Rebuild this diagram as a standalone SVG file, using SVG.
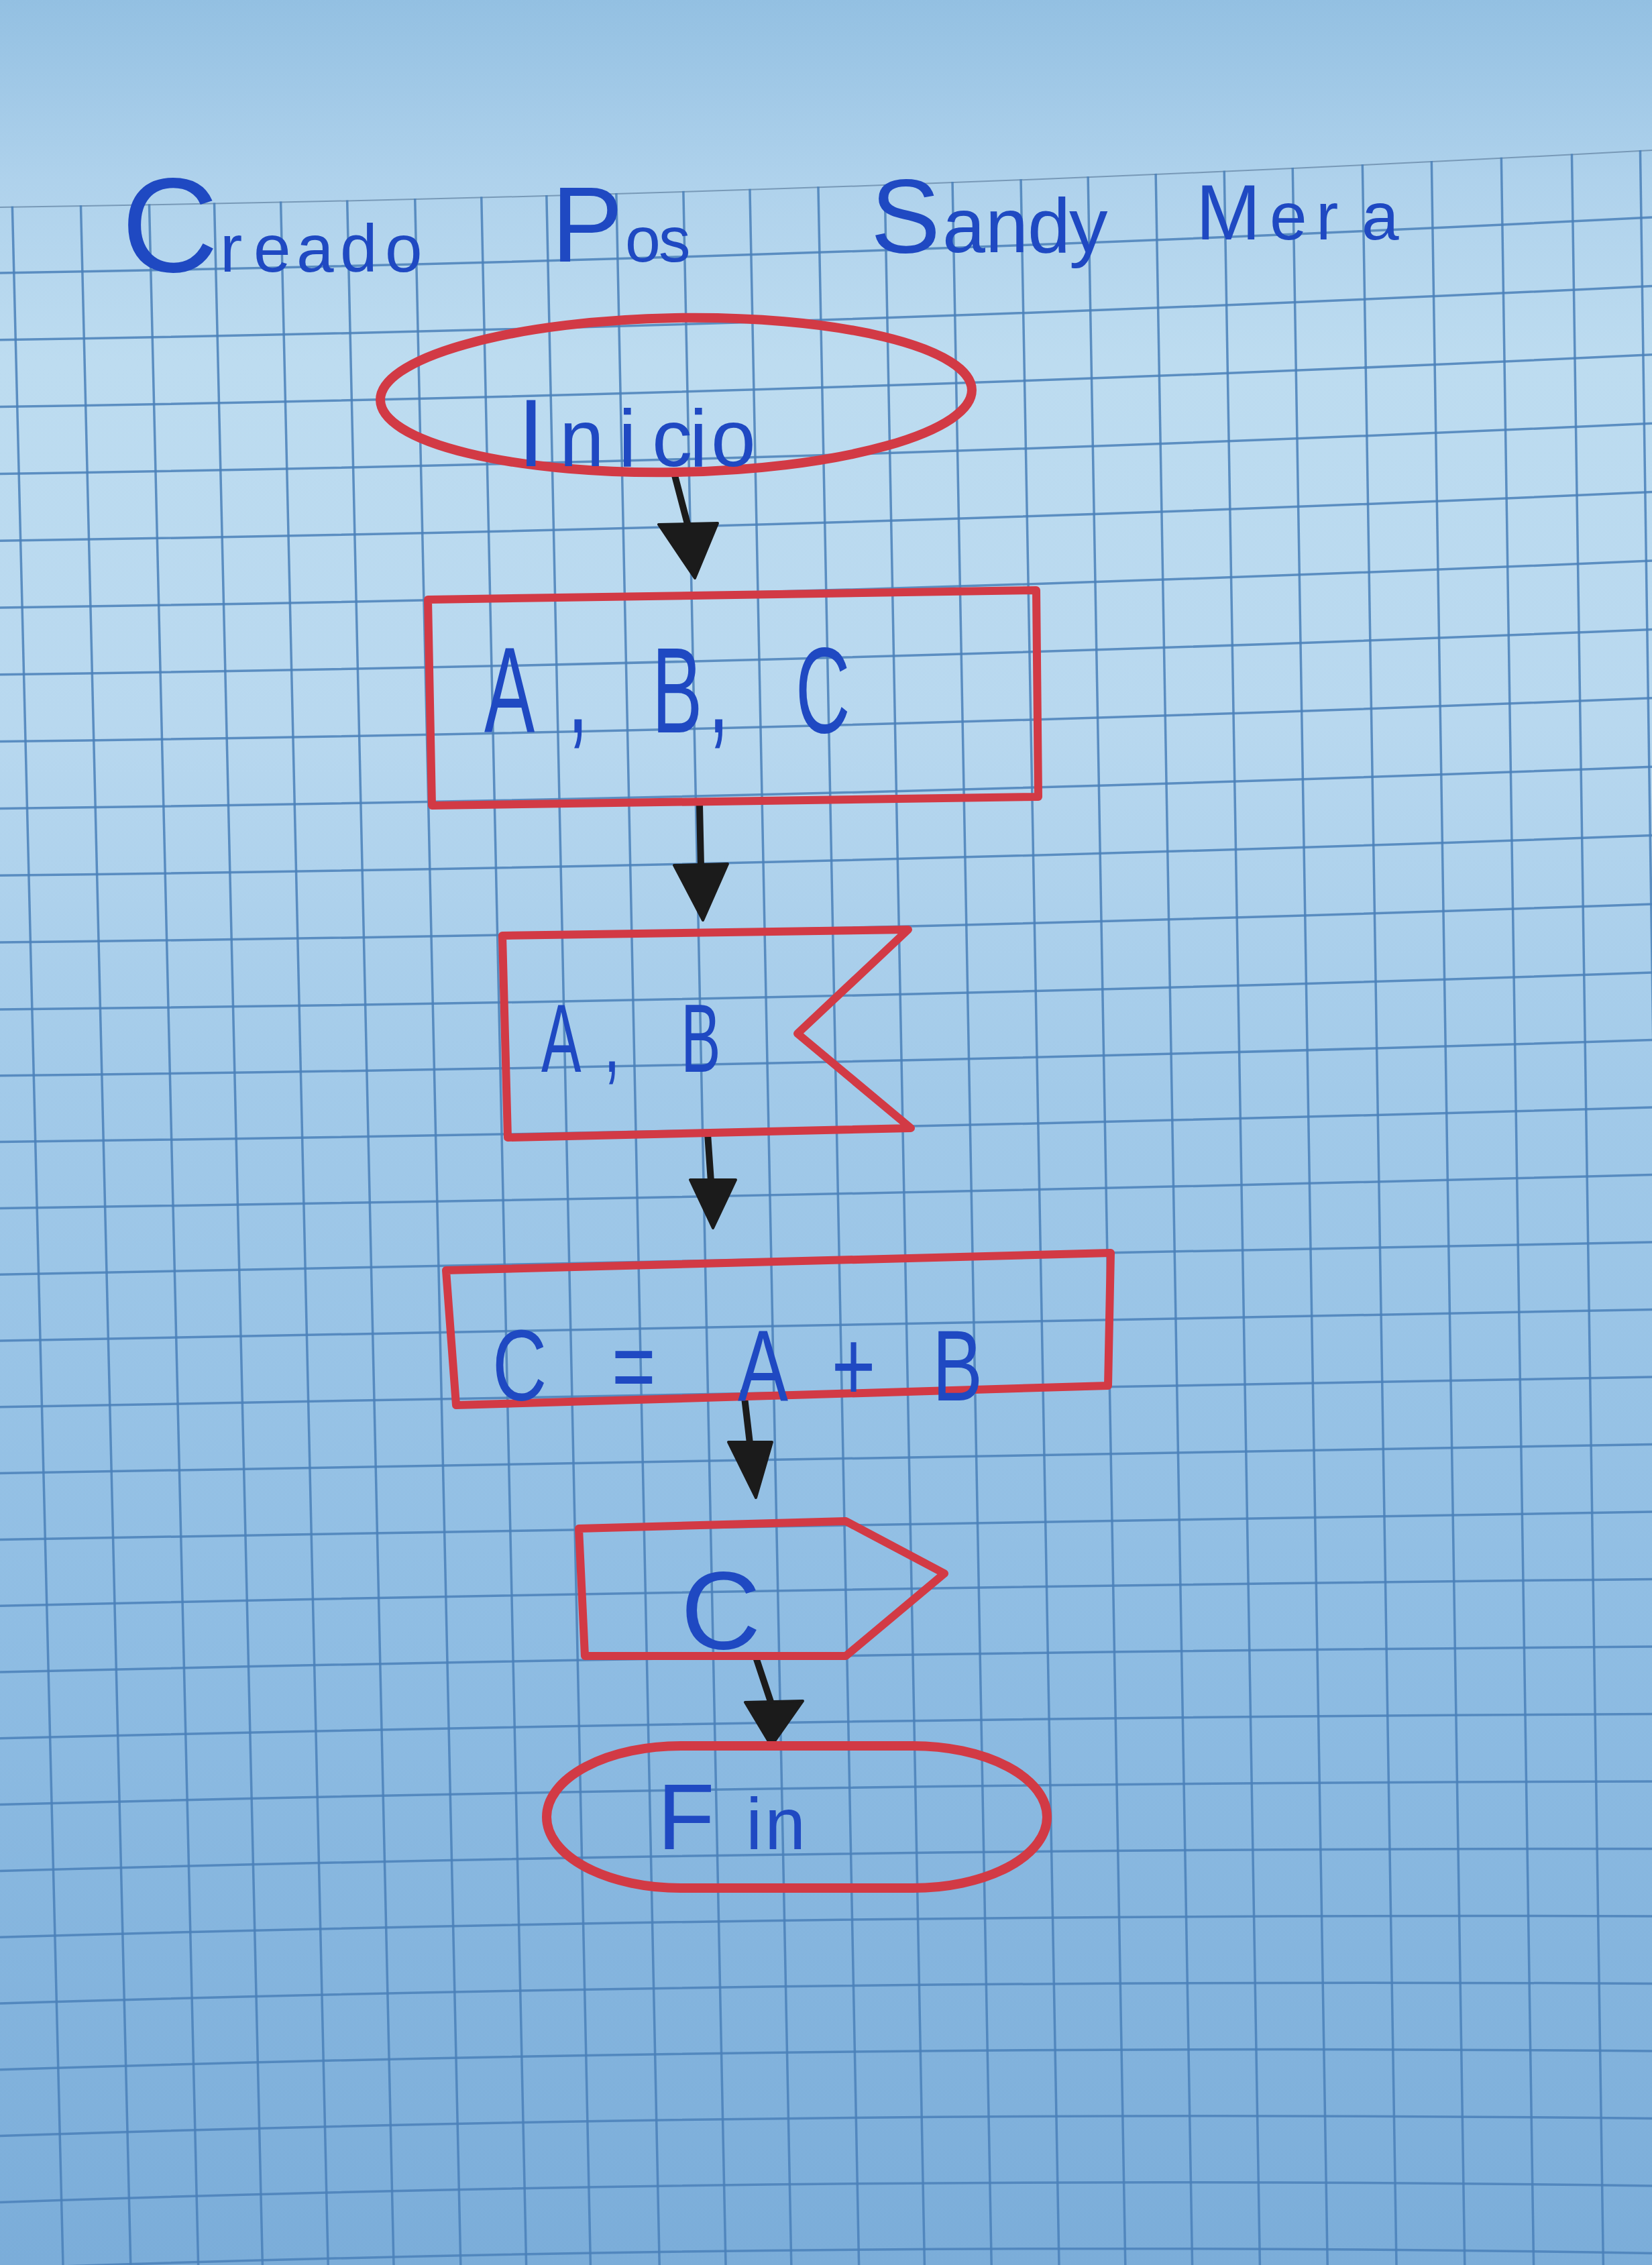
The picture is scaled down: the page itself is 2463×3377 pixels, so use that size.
<svg xmlns="http://www.w3.org/2000/svg" width="2463" height="3377" viewBox="0 0 2463 3377">
<defs>
<linearGradient id="bg" x1="0" y1="0" x2="0" y2="1">
<stop offset="0" stop-color="#93c0e2"/>
<stop offset="0.08" stop-color="#afd2ec"/>
<stop offset="0.16" stop-color="#bddcf0"/>
<stop offset="0.32" stop-color="#b8d8ef"/>
<stop offset="0.48" stop-color="#a2cae9"/>
<stop offset="0.72" stop-color="#8fbde3"/>
<stop offset="1" stop-color="#7badd9"/>
</linearGradient>
<clipPath id="paper"><path d="M0 308 Q1231 290.5 2463 223 L2463 3377 L0 3377 Z"/></clipPath>
<style>
.grid line,.grid path{stroke:#4a80b8;stroke-width:3.5;fill:none;opacity:0.85}
.shape{fill:none;stroke:#d23a45;stroke-width:12;stroke-linejoin:round}
.term{stroke-width:14}
.ink{fill:#1f49c2;font-family:"Liberation Sans",Arial,sans-serif}
.conn line{stroke:#1b1b1b;stroke-width:10;stroke-linecap:round}
.conn path{fill:#1b1b1b;stroke:#1b1b1b;stroke-width:4;stroke-linejoin:round}
</style>
</defs>
<rect x="0" y="0" width="2463" height="3377" fill="url(#bg)"/>
<g class="grid" clip-path="url(#paper)">
<path d="M0 308 Q1231 290.5 2463 223" style="stroke:#6f8fae;stroke-width:4"/>
<line x1="15.7" y1="200" x2="94" y2="3377"/>
<line x1="117.9" y1="200" x2="194.8" y2="3377"/>
<line x1="220" y1="200" x2="295.6" y2="3377"/>
<line x1="317.1" y1="200" x2="391.4" y2="3377"/>
<line x1="416.3" y1="200" x2="489.2" y2="3377"/>
<line x1="515.4" y1="200" x2="587" y2="3377"/>
<line x1="616.6" y1="200" x2="686.8" y2="3377"/>
<line x1="715.7" y1="200" x2="784.6" y2="3377"/>
<line x1="812.9" y1="200" x2="880.4" y2="3377"/>
<line x1="917" y1="200" x2="983.2" y2="3377"/>
<line x1="1017.1" y1="200" x2="1082" y2="3377"/>
<line x1="1116.3" y1="200" x2="1179.8" y2="3377"/>
<line x1="1218.4" y1="200" x2="1280.6" y2="3377"/>
<line x1="1317.6" y1="200" x2="1378.4" y2="3377"/>
<line x1="1418.7" y1="200" x2="1478.2" y2="3377"/>
<line x1="1520.8" y1="200" x2="1579" y2="3377"/>
<line x1="1621" y1="200" x2="1677.8" y2="3377"/>
<line x1="1722.1" y1="200" x2="1777.6" y2="3377"/>
<line x1="1824.3" y1="200" x2="1878.4" y2="3377"/>
<line x1="1926.4" y1="200" x2="1979.2" y2="3377"/>
<line x1="2030.6" y1="200" x2="2082" y2="3377"/>
<line x1="2133.7" y1="200" x2="2183.8" y2="3377"/>
<line x1="2237.8" y1="200" x2="2286.6" y2="3377"/>
<line x1="2343" y1="200" x2="2390.4" y2="3377"/>
<line x1="2445.1" y1="200" x2="2491.2" y2="3377"/>
<path d="M0 407 Q1231 386.5 2463 324"/>
<path d="M0 506.8 Q1231 487 2463 426.4"/>
<path d="M0 606.6 Q1231 587.5 2463 528.8"/>
<path d="M0 706.4 Q1231 688 2463 631.2"/>
<path d="M0 806.2 Q1231 788.5 2463 733.6"/>
<path d="M0 906 Q1231 889 2463 836"/>
<path d="M0 1005.8 Q1231 989.5 2463 938.4"/>
<path d="M0 1105.6 Q1231 1090 2463 1040.8"/>
<path d="M0 1205.4 Q1231 1190.5 2463 1143.2"/>
<path d="M0 1305.2 Q1231 1291 2463 1245.6"/>
<path d="M0 1405 Q1231 1391.5 2463 1348"/>
<path d="M0 1505 Q1231 1492.5 2463 1450"/>
<path d="M0 1603.8 Q1231 1589.65 2463 1550.5"/>
<path d="M0 1702.6 Q1231 1686.8 2463 1651"/>
<path d="M0 1801.4 Q1231 1783.95 2463 1751.5"/>
<path d="M0 1900.2 Q1231 1881.1 2463 1852"/>
<path d="M0 1999 Q1231 1978.25 2463 1952.5"/>
<path d="M0 2097.8 Q1231 2075.4 2463 2053"/>
<path d="M0 2196.6 Q1231 2172.55 2463 2153.5"/>
<path d="M0 2295.4 Q1231 2269.7 2463 2254"/>
<path d="M0 2394.2 Q1231 2366.85 2463 2354.5"/>
<path d="M0 2493 Q1231 2464 2463 2455"/>
<path d="M0 2591.8 Q1231 2561.15 2463 2555.5"/>
<path d="M0 2690.6 Q1231 2658.3 2463 2656"/>
<path d="M0 2789.4 Q1231 2755.45 2463 2756.5"/>
<path d="M0 2888.2 Q1231 2852.6 2463 2857"/>
<path d="M0 2987 Q1231 2949.75 2463 2957.5"/>
<path d="M0 3085.8 Q1231 3046.9 2463 3058"/>
<path d="M0 3184.6 Q1231 3144.05 2463 3158.5"/>
<path d="M0 3283.4 Q1231 3241.2 2463 3259"/>
<path d="M0 3382.2 Q1231 3338.4 2463 3359.5"/>
</g>
<g id="title">
<text class="ink" y="405"><tspan x="181" font-size="200">C</tspan><tspan font-size="100" x="328 378 442 507 574">reado</tspan></text>
<text class="ink" y="390"><tspan x="822" font-size="160">P</tspan><tspan font-size="95" x="932 982">os</tspan></text>
<text class="ink" y="376"><tspan x="1298" font-size="156">S</tspan><tspan font-size="115" x="1405 1469 1532 1594">andy</tspan></text>
<text class="ink" y="357"><tspan x="1783" font-size="116">M</tspan><tspan font-size="100" x="1893 1962 2030">era</tspan></text>
</g>
<g id="connectors" class="conn">
<line x1="1005" y1="705" x2="1026" y2="785"/>
<path d="M982 782 L1070 780 L1036 862 Z"/>
<line x1="1043" y1="1200" x2="1045" y2="1292"/>
<path d="M1005 1290 L1085 1288 L1048 1372 Z"/>
<line x1="1055" y1="1690" x2="1060" y2="1762"/>
<path d="M1029 1759 L1097 1759 L1063 1831 Z"/>
<line x1="1109" y1="2075" x2="1118" y2="2152"/>
<path d="M1086 2150 L1151 2150 L1127 2233 Z"/>
<line x1="1127" y1="2471" x2="1150" y2="2540"/>
<path d="M1111 2538 L1197 2536 L1150 2603 Z"/>
</g>
<g id="inicio">
<ellipse class="shape term" cx="1008" cy="589" rx="441" ry="115" transform="rotate(-1 1008 589)"/>
<text class="ink" y="695"><tspan x="772" font-size="142">I</tspan><tspan font-size="120" x="834 922 972 1028 1060">nicio</tspan></text>
</g>
<g id="entrada">
<polygon class="shape" points="638,894 1545,880 1548,1188 644,1201"/>
<text class="ink" y="1092" font-size="182" transform="scale(0.62,1)" x="1164.5 1364.5 1403 1567.7 1703 1742 1913">A, B, C</text>
</g>
<g id="lectura">
<polygon class="shape" points="749,1395 1354,1386 1189,1541 1358,1682 757,1696"/>
<text class="ink" y="1598" font-size="144" transform="scale(0.62,1)" x="1301.6 1451.6 1500 1637">A, B</text>
</g>
<g id="proceso">
<polygon class="shape" points="665,1894 1656,1868 1652,2066 680,2095"/>
<text class="ink" y="2088" font-size="150" transform="scale(0.75,1)" x="978.7 1150 1216 1400 1466.7 1600 1653 1800 1853.3">C = A + B</text>
</g>
<g id="salida">
<polygon class="shape" points="863,2279 1261,2268 1408,2346 1261,2469 872,2469"/>
<text class="ink" x="1015" y="2458" font-size="165">C</text>
</g>
<g id="fin">
<rect class="shape term" x="815" y="2603" width="746" height="212" rx="200" ry="106"/>
<text class="ink" y="2757"><tspan x="980" font-size="140">F</tspan><tspan font-size="110" x="1112 1140">in</tspan></text>
</g>
</svg>
